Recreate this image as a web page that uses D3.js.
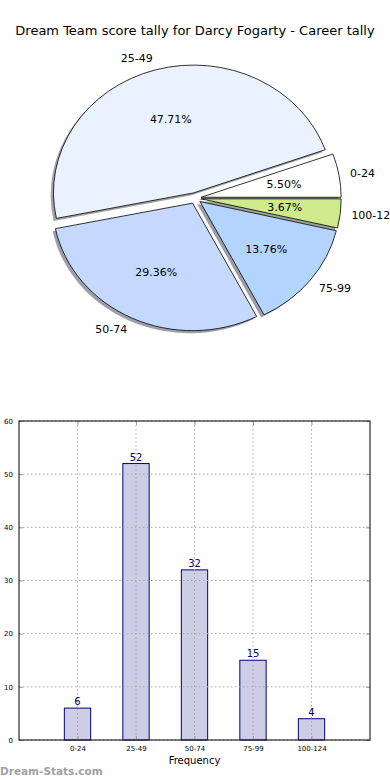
<!DOCTYPE html>
<html><head><meta charset="utf-8">
<script src="https://cdn.jsdelivr.net/npm/d3@7"></script>
<style>body{margin:0;background:#fff;}svg{display:block;font-family:"DejaVu Sans",sans-serif;}</style>
</head><body>
<svg id="c" width="390" height="780"></svg>
<script>
const categories = ["0-24","25-49","50-74","75-99","100-124"];
const counts = [6,52,32,15,4];
const sliceColors = ["#ffffff","#eaf1ff","#c5d8ff","#b3d4ff","#ceea8a"];
const yTicks = [0,10,20,30,40,50,60];
const title = "Dream Team score tally for Darcy Fogarty - Career tally";

const svg = d3.select("#c");
svg.append("text").attr("x",195).attr("y",34.5).attr("text-anchor","middle")
  .attr("font-size",13).attr("fill","#000").text(title);

// ---- Pie ----
const cx = 195.2, cy = 198.2, rx = 140, ry = 127.5, ex = 0.043;
const total = d3.sum(counts);
const pie = d3.pie().sort(null).startAngle(Math.PI/2).endAngle(Math.PI/2 - 2*Math.PI);
const arcs = pie(counts);
const arc = d3.arc().innerRadius(0).outerRadius(1);
const gPie = svg.append("g");
function theta(d){ return Math.PI/2 - (d.startAngle + d.endAngle)/2; } // math angle
// shadows
arcs.forEach((d,i)=>{
  const t = theta(d);
  const ox = cx + ex*rx*Math.cos(t), oy = cy - ex*ry*Math.sin(t);
  const c = d3.rgb(sliceColors[i]);
  gPie.append("path").attr("d",arc(d))
    .attr("transform",`translate(${ox-0.02*rx},${oy+0.02*ry}) scale(${rx},${ry})`)
    .attr("fill",d3.rgb(c.r*0.3,c.g*0.3,c.b*0.3)).attr("fill-opacity",0.5);
});
arcs.forEach((d,i)=>{
  const t = theta(d);
  const ox = cx + ex*rx*Math.cos(t), oy = cy - ex*ry*Math.sin(t);
  gPie.append("path").attr("d",arc(d))
    .attr("transform",`translate(${ox},${oy}) scale(${rx},${ry})`)
    .attr("fill",sliceColors[i]).attr("stroke","#000").attr("stroke-width",0.8)
    .attr("vector-effect","non-scaling-stroke");
});
arcs.forEach((d,i)=>{
  const t = theta(d);
  const ox = cx + ex*rx*Math.cos(t), oy = cy - ex*ry*Math.sin(t);
  const lx = ox + 1.08*rx*Math.cos(t), ly = oy - 1.1*ry*Math.sin(t);
  gPie.append("text").attr("x",lx).attr("y",ly).attr("dy","0.35em")
    .attr("text-anchor", Math.cos(t) < 0 ? "end" : "start")
    .attr("font-size",11).text(categories[i]);
  const px = ox + 0.6*rx*Math.cos(t), py = oy - 0.6*ry*Math.sin(t);
  gPie.append("text").attr("x",px).attr("y",py).attr("dy","0.35em")
    .attr("text-anchor","middle").attr("font-size",11)
    .text((counts[i]/total*100).toFixed(2)+"%");
});

// ---- Bar chart ----
const L = 19, R = 370, T = 421, B = 740;
const x = d3.scaleLinear().domain([0,6]).range([L,R]);
const y = d3.scaleLinear().domain([0,60]).range([B,T]);
const g = svg.append("g");
const bw = x(0.45) - x(0);
g.selectAll("rect.bar").data(counts).join("rect")
  .attr("x",(d,i)=>x(i+1)-bw/2).attr("width",bw)
  .attr("y",d=>y(d)).attr("height",d=>B-y(d))
  .attr("fill","#cdcde6").attr("stroke","#000080").attr("stroke-width",1);
// grid
const gridStyle = s => s.attr("stroke","#a8a8a8").attr("stroke-width",1).attr("stroke-dasharray","1.5,2.5");
categories.forEach((c,i)=>{
  g.append("line").attr("x1",x(i+1)).attr("x2",x(i+1)).attr("y1",T).attr("y2",B).call(gridStyle);
});
yTicks.forEach(v=>{
  g.append("line").attr("x1",L).attr("x2",R).attr("y1",y(v)).attr("y2",y(v)).call(gridStyle);
});
// axes with inside ticks
const axL = d3.axisLeft(y).tickValues(yTicks).tickSizeInner(-4).tickSizeOuter(0).tickPadding(6);
const axR = d3.axisRight(y).tickValues(yTicks).tickSizeInner(-4).tickSizeOuter(0).tickFormat("");
const axB = d3.axisBottom(x).tickValues([1,2,3,4,5]).tickFormat((d)=>categories[d-1]).tickSizeInner(-4).tickSizeOuter(0).tickPadding(6);
const axT = d3.axisTop(x).tickValues([1,2,3,4,5]).tickFormat("").tickSizeInner(-4).tickSizeOuter(0);
function styleAx(sel){
  sel.select(".domain").remove();
  sel.selectAll(".tick line").attr("stroke","#999");
  sel.selectAll(".tick text").attr("font-size",7).attr("fill","#000").attr("font-family","DejaVu Sans, sans-serif");
}
g.append("g").attr("transform",`translate(${L},0)`).call(axL).call(styleAx);
g.append("g").attr("transform",`translate(${R},0)`).call(axR).call(styleAx);
g.append("g").attr("transform",`translate(0,${B})`).call(axB).call(styleAx);
g.append("g").attr("transform",`translate(0,${T})`).call(axT).call(styleAx);
g.append("rect").attr("x",L).attr("y",T).attr("width",R-L).attr("height",B-T)
  .attr("fill","none").attr("stroke","#000").attr("stroke-width",1);
// value labels
g.selectAll("text.val").data(counts).join("text")
  .attr("x",(d,i)=>x(i+1)).attr("y",d=>y(d)-3)
  .attr("text-anchor","middle").attr("font-size",10).attr("fill","#000080").text(d=>d);
svg.append("text").attr("x",(L+R)/2).attr("y",764).attr("text-anchor","middle")
  .attr("font-size",10).text("Frequency");
svg.append("text").attr("x",0).attr("y",775).attr("font-size",10.5).attr("font-weight","bold")
  .attr("fill","#a0a0a0").text("Dream-Stats.com");
</script>
</body></html>
